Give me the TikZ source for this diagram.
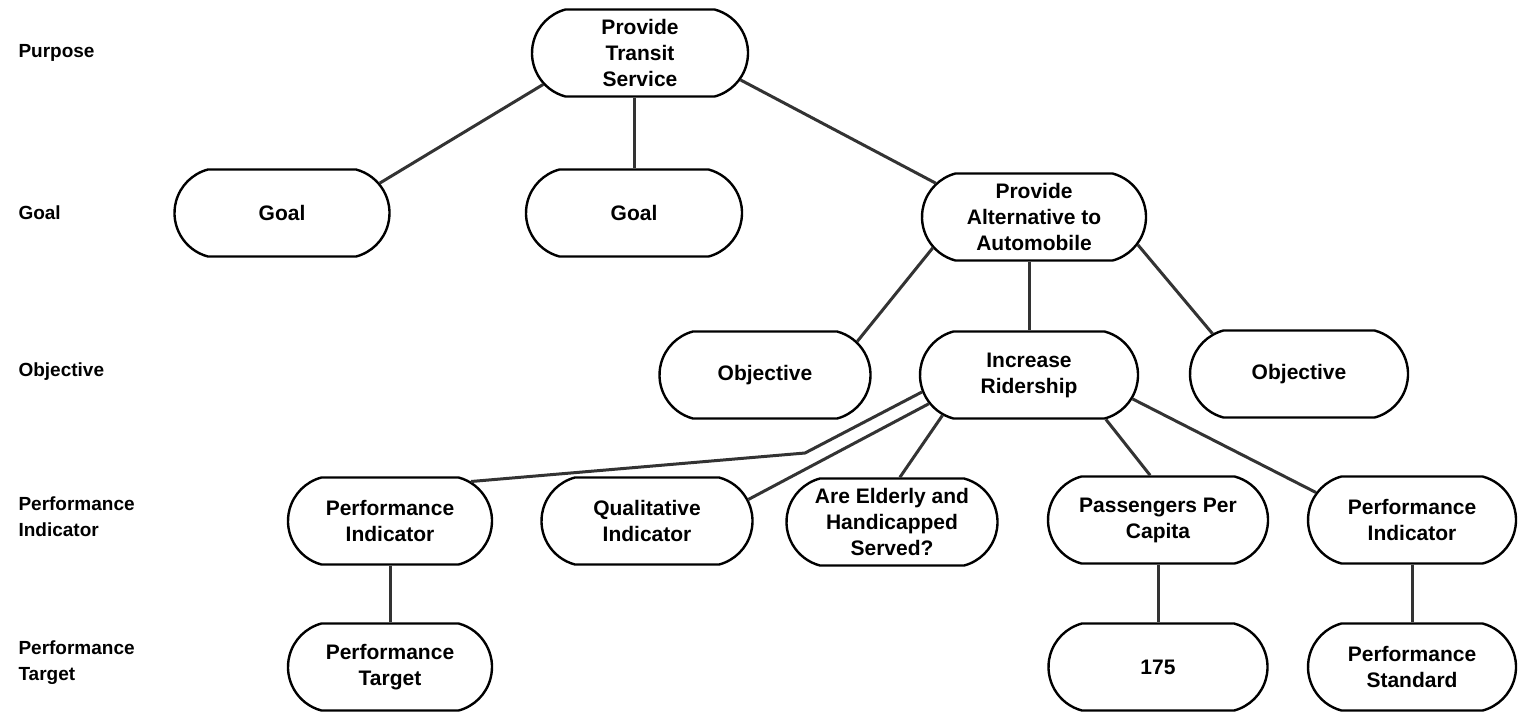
\documentclass[tikz,border=0pt]{standalone}
\usepackage{fontspec}
\setmainfont{Liberation Sans}
\usetikzlibrary{shapes.misc}

\begin{document}
\begin{tikzpicture}[
    x=1pt, y=-1pt,
    box/.style={rounded rectangle, rounded rectangle arc length=150,
        draw=black, line width=2.4pt, fill=white, align=center,
        minimum width=218pt, minimum height=87pt, inner sep=2pt,
        font=\fontsize{21}{26}\selectfont\bfseries},
    level/.style={anchor=west, align=left,
        font=\fontsize{19}{26}\selectfont\bfseries},
    edge/.style={line width=3pt, black!80, -}
]
    \useasboundingbox (0,0) rectangle (1520,713);
    % row labels
    \node[level] (lpurpose) at (15,53) {Purpose};
    \node[level] (lgoal) at (15,213) {Goal};
    \node[level] (lobjective) at (15,372) {Objective};
    \node[level] (lindicator) at (15,517) {Performance\\Indicator};
    \node[level] (ltarget) at (15,663) {Performance\\Target};
    % boxes
    \node[box, minimum width=220pt] (transit) at (640,53) {Provide\\Transit\\Service};
    \node[box, minimum width=219pt] (goalA) at (282,213) {Goal};
    \node[box, minimum width=220pt] (goalB) at (634,213) {Goal};
    \node[box, minimum width=228pt] (alt) at (1034,217) {Provide\\Alternative to\\Automobile};
    \node[box, minimum width=215pt] (objA) at (765,375) {Objective};
    \node[box, minimum width=222pt] (incr) at (1029,375) {Increase\\Ridership};
    \node[box, minimum width=222pt] (objC) at (1299,374) {Objective};
    \node[box, minimum width=208pt] (piA) at (390,521) {Performance\\Indicator};
    \node[box, minimum width=215pt] (qual) at (647,521) {Qualitative\\Indicator};
    \node[box, minimum width=215pt] (elder) at (892,522) {Are Elderly and\\Handicapped\\Served?};
    \node[box, minimum width=224pt] (pass) at (1158,520) {Passengers Per\\Capita};
    \node[box, minimum width=212pt] (piB) at (1412,520) {Performance\\Indicator};
    \node[box, minimum width=208pt] (target) at (390,667) {Performance\\Target};
    \node[box, minimum width=223pt] (val) at (1158,667) {175};
    \node[box, minimum width=212pt] (stand) at (1412,667) {Performance\\Standard};
    \coordinate (bend) at (805,453);
    % connectors
    \draw[edge] (transit.198) -- (goalA.17);
    \draw[edge] (goalB.north) -- (goalB.north |- transit.south);
    \draw[edge] (transit.345) -- (alt.161);
    \draw[edge] (alt.197) -- (objA.20);
    \draw[edge] (incr.north) -- (incr.north |- alt.south);
    \draw[edge] (alt.345) -- (objC.155);
    \draw[edge] (incr.189) -- (bend) -- (piA.26);
    \draw[edge] (incr.196) -- (qual.12);
    \draw[edge] (incr.205) -- (elder.80);
    \draw[edge] (incr.330) -- (pass.100);
    \draw[edge] (incr.347) -- (piB.164);
    \draw[edge] (piA.south) -- (target.north);
    \draw[edge] (pass.south) -- (val.north);
    \draw[edge] (piB.south) -- (stand.north);
\end{tikzpicture}
\end{document}
